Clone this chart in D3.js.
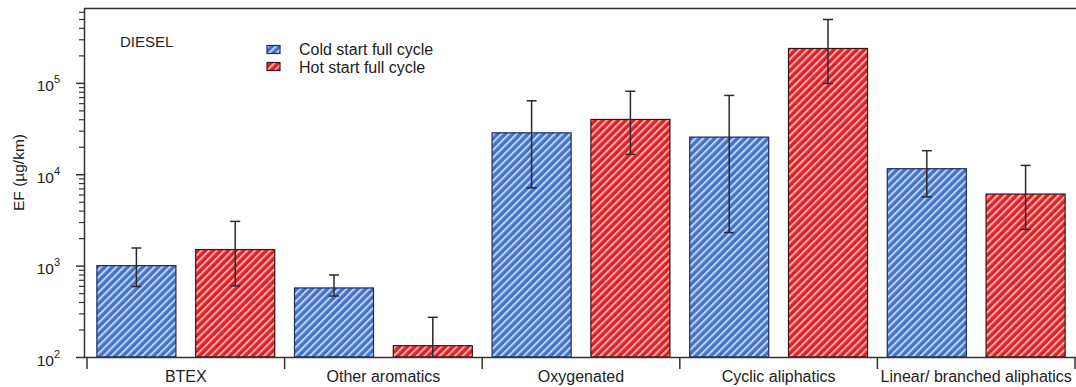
<!DOCTYPE html>
<html><head><meta charset="utf-8">
<script src="https://cdn.jsdelivr.net/npm/d3@7"></script>
<style>
html,body{margin:0;padding:0;background:#fff;}
svg{display:block;font-family:"Liberation Sans",Arial,sans-serif;}
</style></head>
<body>
<svg id="chart" width="1076" height="387"></svg>
<script>
const categories = ["BTEX","Other aromatics","Oxygenated","Cyclic aliphatics","Linear/ branched aliphatics"];
const seriesNames = ["Cold start full cycle","Hot start full cycle"];
const coldVals = [1000, 570, 28400, 25500, 11500];
const coldLow  = [590, 465, 7100, 2300, 5660];
const coldHigh = [1560, 790, 63700, 72900, 18100];
const hotVals  = [1500, 133, 39800, 238000, 6070];
const hotLow   = [600, 60, 16500, 98500, 2490];
const hotHigh  = [3050, 272, 81000, 494000, 12500];
const yMajorTicks = [100, 1000, 10000, 100000];
const yExponents = ["2","3","4","5"];

const svg = d3.select("#chart");
const L = 84, R = 1075, T = 8, B = 357;

const x0 = d3.scaleBand().domain(categories).range([87, 1075]).paddingInner(0).paddingOuter(0);
const x1 = d3.scaleBand().domain(seriesNames).range([0, x0.bandwidth()]).paddingInner(0.2).paddingOuter(0.1);
const y = d3.scaleLog().domain([100, 6.6e5]).range([B, T]);

const defs = svg.append("defs");
function hatch(id, base, stripe){
  const p = defs.append("pattern").attr("id", id).attr("patternUnits","userSpaceOnUse")
    .attr("width", 5.4).attr("height", 5.4).attr("patternTransform","rotate(45)");
  p.append("rect").attr("width",5.4).attr("height",5.4).attr("fill",base);
  p.append("rect").attr("x",0).attr("width",2.1).attr("height",5.4).attr("fill",stripe);
}
hatch("hBlue", "#4570c4", "#b8d2f4");
hatch("hRed", "#e01f24", "#f7aaac");
defs.append("clipPath").attr("id","plotClip").append("rect")
  .attr("x", L).attr("y", T).attr("width", R - L).attr("height", B - T);

const series = [
  {name: seriesNames[0], vals: coldVals, lo: coldLow, hi: coldHigh, fill: "url(#hBlue)", stroke: "#1d2b5e"},
  {name: seriesNames[1], vals: hotVals, lo: hotLow, hi: hotHigh, fill: "url(#hRed)", stroke: "#3a1414"}
];

const plot = svg.append("g").attr("clip-path","url(#plotClip)");
series.forEach(s => {
  const g = plot.append("g");
  g.selectAll("rect").data(categories).join("rect")
    .attr("x", c => x0(c) + x1(s.name))
    .attr("width", x1.bandwidth())
    .attr("y", (c,i) => y(s.vals[i]))
    .attr("height", (c,i) => y(100) - y(s.vals[i]))
    .attr("fill", s.fill).attr("stroke", s.stroke).attr("stroke-width", 1.2);
  const eb = g.selectAll("g.eb").data(categories).join("g").attr("class","eb")
    .attr("stroke","#2a2a2a").attr("stroke-width",1.5);
  const cx = c => x0(c) + x1(s.name) + x1.bandwidth()/2;
  eb.append("line").attr("x1",cx).attr("x2",cx)
    .attr("y1",(c,i)=>y(s.hi[i])).attr("y2",(c,i)=>y(s.lo[i]));
  eb.append("line").attr("x1",c=>cx(c)-5).attr("x2",c=>cx(c)+5)
    .attr("y1",(c,i)=>y(s.hi[i])).attr("y2",(c,i)=>y(s.hi[i]));
  eb.append("line").attr("x1",c=>cx(c)-5).attr("x2",c=>cx(c)+5)
    .attr("y1",(c,i)=>y(s.lo[i])).attr("y2",(c,i)=>y(s.lo[i]));
});

// frame lines
svg.append("line").attr("x1",L).attr("x2",R+1).attr("y1",T+0.5).attr("y2",T+0.5)
  .attr("stroke","#333").attr("stroke-width",1.5);

// y axis minor ticks
const minorTicks = [];
for (let e = 2; e <= 5; e++) for (let m = 2; m <= 9; m++) { const v = m*Math.pow(10,e); if (v <= 6.6e5) minorTicks.push(v); }
const yMinor = svg.append("g").attr("transform",`translate(${L},0)`)
  .call(d3.axisLeft(y).tickValues(minorTicks).tickSize(5).tickFormat(""));
yMinor.select(".domain").remove();
yMinor.selectAll("line").attr("stroke","#333").attr("stroke-width",1.2);

const yMajor = svg.append("g").attr("transform",`translate(${L},0)`)
  .call(d3.axisLeft(y).tickValues(yMajorTicks).tickSize(8).tickSizeOuter(0).tickFormat(""));
yMajor.select(".domain").attr("stroke","#333").attr("stroke-width",1.5);
yMajor.selectAll("line").attr("stroke","#333").attr("stroke-width",1.5);
yMajor.selectAll(".tick").each(function(d,i){
  const t = d3.select(this).append("text").attr("fill","#222").attr("x",-24).attr("y",8)
    .attr("text-anchor","end").style("font-size","15.5px");
  t.append("tspan").text("10");
  t.append("tspan").attr("dy",-8).style("font-size","11px").text(yExponents[i]);
});

svg.append("text").attr("transform",`translate(24,${(T+B)/2-10}) rotate(-90)`)
  .attr("text-anchor","middle").attr("fill","#222").style("font-size","15.5px").text("EF (µg/km)");

// x axis
const xa = svg.append("g").attr("transform",`translate(0,${B})`);
xa.append("line").attr("x1",L-1).attr("x2",R+1).attr("y1",0.5).attr("y2",0.5)
  .attr("stroke","#333").attr("stroke-width",1.5);
const bounds = categories.map(c => x0(c)).concat([x0.range()[1]]);
xa.selectAll("line.bt").data(bounds).join("line").attr("class","bt")
  .attr("x1",d=>d).attr("x2",d=>d).attr("y1",0).attr("y2",12)
  .attr("stroke","#333").attr("stroke-width",1.5);
xa.selectAll("text").data(categories).join("text")
  .attr("x", c => x0(c) + x0.bandwidth()/2).attr("y", 25)
  .attr("text-anchor","middle").attr("fill","#222").style("font-size","16px").text(c=>c);

// labels and legend
svg.append("text").attr("x",120).attr("y",47).attr("fill","#222").style("font-size","15px").text("DIESEL");
const lg = svg.append("g");
series.forEach((s,i) => {
  lg.append("rect").attr("x",267).attr("y",45.5 + i*17).attr("width",13).attr("height",8)
    .attr("fill", s.fill).attr("stroke", s.stroke).attr("stroke-width",1.2);
  lg.append("text").attr("x",299).attr("y",55 + i*17.5).attr("fill","#222")
    .style("font-size","16px").text(s.name);
});
</script>
</body></html>
